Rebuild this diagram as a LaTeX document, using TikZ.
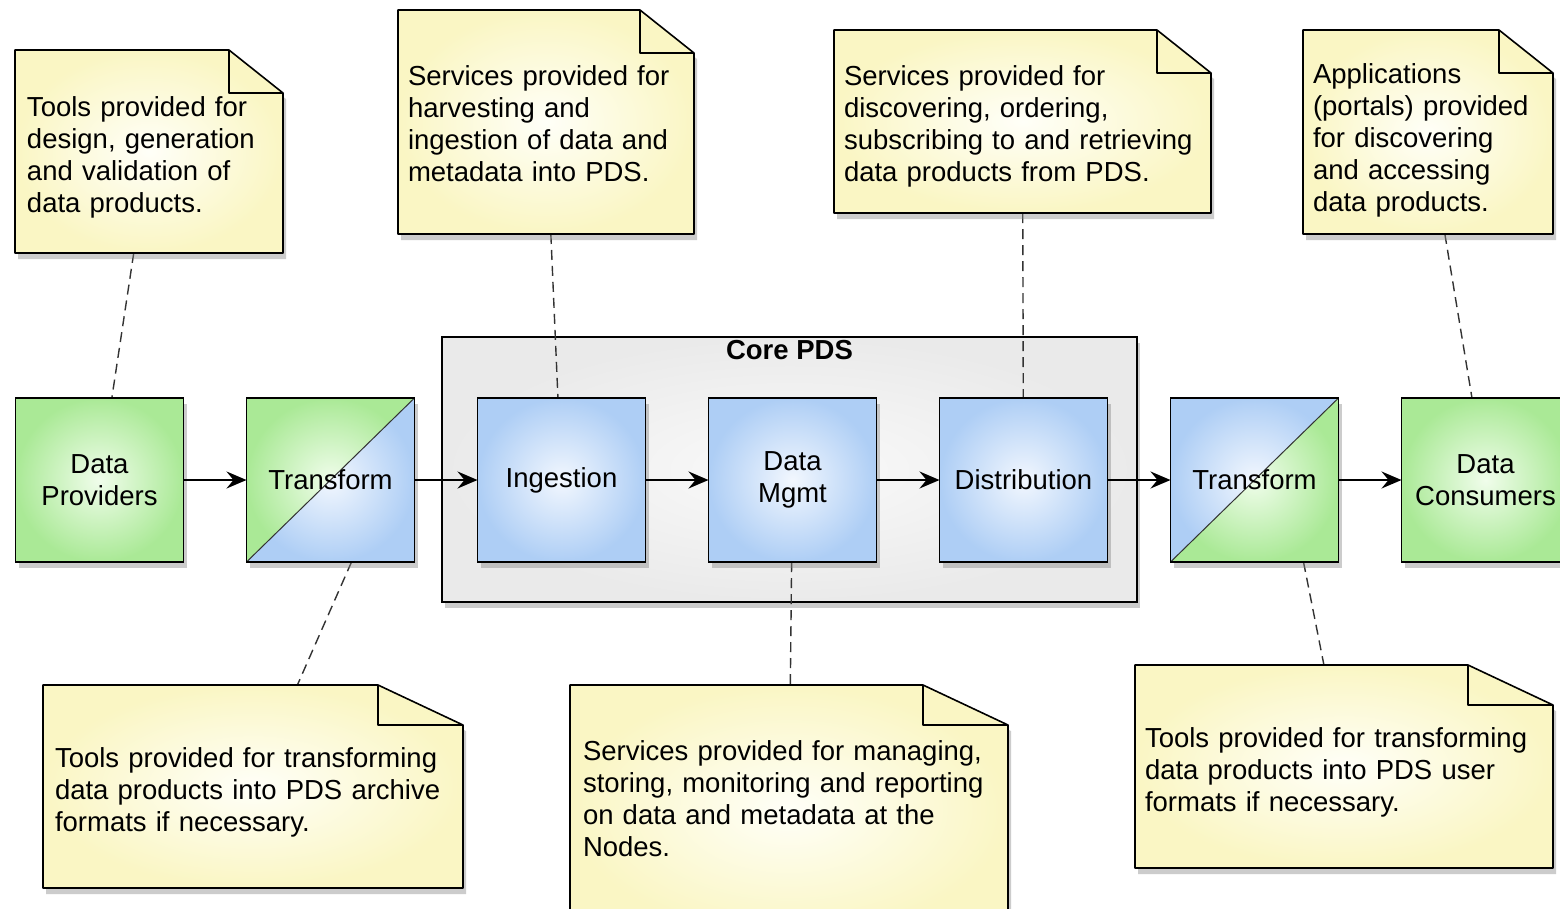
\documentclass[tikz,border=0pt]{standalone}
\usepackage{fontspec}
\setmainfont{Liberation Sans}
\usetikzlibrary{positioning,shadows,arrows.meta}

\definecolor{greenin}{RGB}{240,253,235}
\definecolor{greenout}{RGB}{170,233,150}
\definecolor{bluein}{RGB}{242,247,254}
\definecolor{blueout}{RGB}{174,206,245}
\definecolor{notein}{RGB}{255,255,248}
\definecolor{noteout}{RGB}{250,246,196}
\definecolor{corein}{RGB}{250,250,250}
\definecolor{coreout}{RGB}{234,234,234}

\newcommand{\diafont}{\fontsize{27.5}{32}\selectfont}
\newcommand{\notepaper}[3]{%
  \path[paper] (#1.north west) -- ([xshift=-#2]#1.north east) -- ([yshift=-#3]#1.north east)
    -- (#1.south east) -- (#1.south west) -- cycle;
  \draw[fold] ([xshift=-#2]#1.north east) -- ([xshift=-#2,yshift=-#3]#1.north east)
    -- ([yshift=-#3]#1.north east);}

\pgfdeclarelayer{back}
\pgfdeclarelayer{mid}
\pgfdeclarelayer{paper}
\pgfsetlayers{back,mid,paper,main}

\tikzset{
  shadowed/.style={drop shadow={shadow xshift=3pt,shadow yshift=-6pt,opacity=.4}},
  box/.style={rectangle, draw, line width=1.8pt, minimum width=168pt, minimum height=164pt,
    align=center, font=\diafont, outer sep=0pt, shadowed},
  greenbox/.style={box, inner color=greenin, outer color=greenout},
  bluebox/.style={box, inner color=bluein, outer color=blueout},
  xform/.style 2 args={box, path picture={
    \shade[inner color=#1in, outer color=#1out] (path picture bounding box.north west)
      -- (path picture bounding box.north east) -- (path picture bounding box.south west) -- cycle;
    \shade[inner color=#2in, outer color=#2out] (path picture bounding box.north east)
      -- (path picture bounding box.south east) -- (path picture bounding box.south west) -- cycle;
    \draw[line width=1pt, black!80] (path picture bounding box.south west) -- (path picture bounding box.north east);}},
  core/.style={rectangle, draw, line width=1.8pt, minimum width=695pt, minimum height=265pt,
    inner color=corein, outer color=coreout, shadowed,
    label={[font=\diafont\bfseries, anchor=north, inner sep=4pt]north:Core PDS}},
  note/.style={anchor=north west, inner xsep=10pt, inner ysep=0pt, outer sep=0pt, align=left, font=\diafont},
  paper/.style={draw, line width=1.6pt, line join=round, inner color=notein, outer color=noteout, shadowed},
  fold/.style={line width=1.6pt, line join=round},
  flow/.style={-{Stealth[length=20pt,width=17pt,inset=7pt]}, line width=2pt},
  link/.style={draw=black!80, line width=1.4pt, dash pattern=on 10pt off 6pt}
}

\begin{document}
\begin{tikzpicture}[x=1pt,y=-1pt,node distance=63pt]
\useasboundingbox (0,0) rectangle (1560,908);
\begin{pgfonlayer}{back}
\fill[white] (0,0) rectangle (1560,908);
\node[core] (core) at (789.5,469.5) {};
\end{pgfonlayer}

\node[greenbox] (providers) at (99.5,480) {Data\\Providers};
\node[xform={green}{blue}, right=of providers] (xform1) {Transform};
\node[bluebox, right=of xform1] (ingest) {Ingestion};
\node[bluebox, right=of ingest] (mgmt) {Data\\Mgmt};
\node[bluebox, right=of mgmt] (distrib) {Distribution};
\node[xform={blue}{green}, right=of distrib] (xform2) {Transform};
\node[greenbox, right=of xform2] (consumers) {Data\\Consumers};

\node[note, inner xsep=12pt, text width=244pt, text height=66pt, text depth=137pt] (provnote) at (15,50)
  {Tools provided for\\design, generation\\and validation of\\data products.};
\node[note, text width=276pt, text height=75pt, text depth=149pt] (ingestnote) at (398,10)
  {Services provided for\\harvesting and\\ingestion of data and\\metadata into PDS.};
\node[note, text width=357pt, text height=55pt, text depth=128pt] (distnote) at (834,30)
  {Services provided for\\discovering, ordering,\\subscribing to and retrieving\\data products from PDS.};
\node[note, text width=230pt, text height=53pt, text depth=151pt] (consnote) at (1303,30)
  {Applications\\(portals) provided\\for discovering\\and accessing\\data products.};
\node[note, inner xsep=12pt, text width=396pt, text height=82pt, text depth=121pt] (archivenote) at (43,685)
  {Tools provided for transforming\\data products into PDS archive\\formats if necessary.};
\node[note, inner xsep=13pt, text width=412pt, text height=75pt, text depth=175pt] (mgmtnote) at (570,685)
  {Services provided for managing,\\storing, monitoring and reporting\\on data and metadata at the\\Nodes.};
\node[note, text width=398pt, text height=82pt, text depth=121pt] (usernote) at (1135,665)
  {Tools provided for transforming\\data products into PDS user\\formats if necessary.};

\begin{pgfonlayer}{paper}
\foreach \n in {provnote,ingestnote,distnote,consnote} {\notepaper{\n}{54pt}{43pt}}
\foreach \n in {archivenote,mgmtnote,usernote} {\notepaper{\n}{85pt}{40pt}}
\end{pgfonlayer}

\begin{pgfonlayer}{mid}
\draw[link] (provnote) -- (providers);
\draw[link] (ingestnote) -- (ingest);
\draw[link] (distnote) -- (distrib);
\draw[link] (consnote) -- (consumers);
\draw[link] ([xshift=21pt]xform1.south) -- (archivenote);
\draw[link] (mgmt) -- (mgmtnote);
\draw[link] ([xshift=49pt]xform2.south) -- (usernote);
\end{pgfonlayer}

\foreach \a/\b in {providers/xform1,xform1/ingest,ingest/mgmt,mgmt/distrib,distrib/xform2,xform2/consumers}
  \draw[flow] (\a) -- (\b);
\end{tikzpicture}
\end{document}
